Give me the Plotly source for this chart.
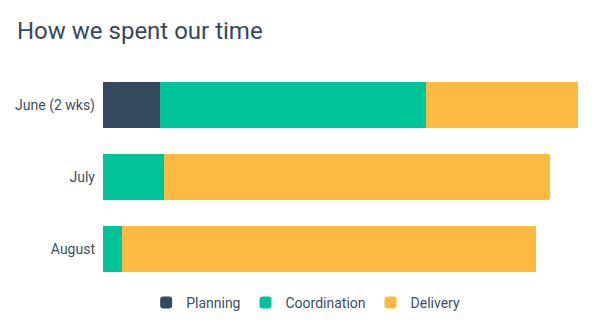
import plotly.graph_objects as go

categories = ["June (2 wks)", "July", "August"]
series_names = ["Planning", "Coordination", "Delivery"]
planning = [12.0, 0.0, 0.0]
coordination = [56.0, 12.8, 4.0]
delivery = [32.0, 81.3, 87.2]
colors = ["#34495e", "#00c39a", "#fdba42"]

fig = go.Figure()
for name, vals, col in zip(series_names, [planning, coordination, delivery], colors):
    fig.add_trace(go.Bar(
        y=categories, x=vals, name=name, orientation="h",
        marker=dict(color=col, line=dict(width=0)),
        hovertemplate="%{y}: %{x}<extra>" + name + "</extra>",
    ))

fig.update_layout(
    width=597, height=324,
    barmode="stack",
    bargap=0.36,
    barcornerradius=2,
    paper_bgcolor="white",
    plot_bgcolor="white",
    font=dict(family="Roboto", size=14, color="#3d4f5f"),
    title=dict(text="How we spent our time", x=0, xref="container", xanchor="left",
               pad=dict(l=17, t=22), y=1, yref="container", yanchor="top",
               font=dict(family="Roboto", size=24, color="#34495e")),
    margin=dict(l=103, r=19, t=69, b=39, pad=0, autoexpand=False),
    xaxis=dict(range=[0, 100], showgrid=False, zeroline=False, showticklabels=False,
               showline=False, fixedrange=True),
    yaxis=dict(autorange="reversed", showgrid=False, zeroline=False, showline=False,
               ticks="", ticklabelstandoff=7, fixedrange=True),
    legend=dict(orientation="h", xref="container", x=0.512, xanchor="center",
                yref="container", y=0.065, yanchor="middle",
                font=dict(family="Roboto", size=14, color="#3d4f5f"),
                traceorder="normal"),
    showlegend=True,
)

fig.write_html("out.html")
